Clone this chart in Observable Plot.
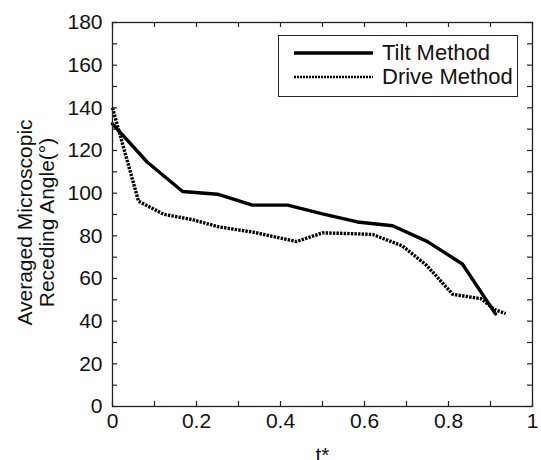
<!DOCTYPE html>
<html>
<head>
<meta charset="utf-8">
<script src="https://cdn.jsdelivr.net/npm/d3@7"></script>
<script src="https://cdn.jsdelivr.net/npm/@observablehq/plot@0.6"></script>
<style>
  html, body { margin: 0; padding: 0; background: #fff; }
  #wrap { position: relative; width: 541px; height: 460px; font-family: "Liberation Sans", Arial, sans-serif; }
  #legend { position: absolute; left: 278px; top: 35px; width: 240px; height: 62px; box-sizing: border-box;
            border: 1.2px solid #222; background: #fff; }
  .row { position: absolute; left: 0; height: 24px; display: flex; align-items: center; font-size: 22px; color: #111; }
  .row svg { margin-left: 15px; margin-right: 9px; }
</style>
</head>
<body>
<div id="wrap"></div>
<script>
// Data
const tiltT = [0, 0.083, 0.167, 0.25, 0.333, 0.417, 0.5, 0.583, 0.667, 0.75, 0.833, 0.912];
const tiltAngle = [132.5, 114.5, 100.8, 99.5, 94.4, 94.4, 90.3, 86.5, 84.7, 77.3, 66.8, 43.4];
const driveT = [0, 0.062, 0.122, 0.19, 0.253, 0.336, 0.438, 0.5, 0.575, 0.62, 0.69, 0.748, 0.81, 0.878, 0.91, 0.936];
const driveAngle = [140, 96.2, 90.1, 87.6, 84.2, 81.7, 77.3, 81.4, 81, 80.6, 75.3, 66.1, 52.6, 50.5, 45.4, 43.6];
const seriesNames = ["Tilt Method", "Drive Method"];
const xTickValues = [0, 0.2, 0.4, 0.6, 0.8, 1];
const xMinorTicks = d3.range(0, 11).map(i => i / 10);
const yTickValues = d3.range(0, 181, 20);
const yMinorTicks = d3.range(0, 181, 10);

const tilt = tiltT.map((t, i) => ({t, a: tiltAngle[i]}));
const drive = driveT.map((t, i) => ({t, a: driveAngle[i]}));

const W = 541, H = 460, mL = 112, mR = 9, mT = 22, mB = 54;
const fw = W - mL - mR, fh = H - mT - mB, tl = 5;
const dash = "2.4,1.2";

const chart = Plot.plot({
  width: W, height: H,
  marginLeft: mL, marginRight: mR, marginTop: mT, marginBottom: mB,
  style: {fontFamily: "Liberation Sans, Arial, sans-serif", fontSize: "21px", color: "#111", background: "#fff"},
  x: {domain: [0, 1]},
  y: {domain: [0, 180]},
  marks: [
    Plot.axisX(xTickValues, {tickSize: 0, tickPadding: 7, label: null, tickFormat: d => d === 0 ? "0" : d === 1 ? "1" : d3.format(".1f")(d)}),
    Plot.axisY(yTickValues, {tickSize: 0, tickPadding: 10, label: null}),
    Plot.ruleX(xMinorTicks, {x: d => d, insetTop: fh - tl, stroke: "#222", strokeWidth: 1.2}),
    Plot.ruleX(xMinorTicks, {x: d => d, insetBottom: fh - tl, stroke: "#222", strokeWidth: 1.2}),
    Plot.ruleY(yMinorTicks, {y: d => d, insetRight: fw - tl, stroke: "#222", strokeWidth: 1.2}),
    Plot.ruleY(yMinorTicks, {y: d => d, insetLeft: fw - tl, stroke: "#222", strokeWidth: 1.2}),
    Plot.line(drive, {x: "t", y: "a", stroke: "#000", strokeWidth: 3.4, strokeDasharray: dash, strokeLinecap: "butt", strokeLinejoin: "miter"}),
    Plot.line(tilt, {x: "t", y: "a", stroke: "#000", strokeWidth: 3.4, strokeLinejoin: "miter"}),
    Plot.frame({stroke: "#222", strokeWidth: 1.3}),
    Plot.text(["Averaged Microscopic\nReceding Angle(°)"], {frameAnchor: "left", textAnchor: "middle", rotate: -90, dx: -77, dy: 8, lineHeight: 1.05, fill: "#111", fontSize: 21}),
    Plot.text(["t*"], {frameAnchor: "bottom", textAnchor: "middle", lineAnchor: "top", dy: 41, fill: "#111", fontSize: 21})
  ]
});

const wrap = document.getElementById("wrap");
wrap.appendChild(chart);

const legend = document.createElement("div");
legend.id = "legend";
const styles = [{dash: null, w: 3.4}, {dash: "2,1", w: 2.6}];
seriesNames.forEach((name, i) => {
  const row = document.createElement("div");
  row.className = "row";
  row.style.top = (i === 0 ? 4.5 : 28.5) + "px";
  const s = styles[i];
  row.innerHTML = `<svg width="79" height="8"><line x1="0" y1="4" x2="79" y2="4" stroke="#000" stroke-width="${s.w}" ${s.dash ? `stroke-dasharray="${s.dash}"` : ""}/></svg><span>${name}</span>`;
  legend.appendChild(row);
});
wrap.appendChild(legend);
</script>
</body>
</html>
